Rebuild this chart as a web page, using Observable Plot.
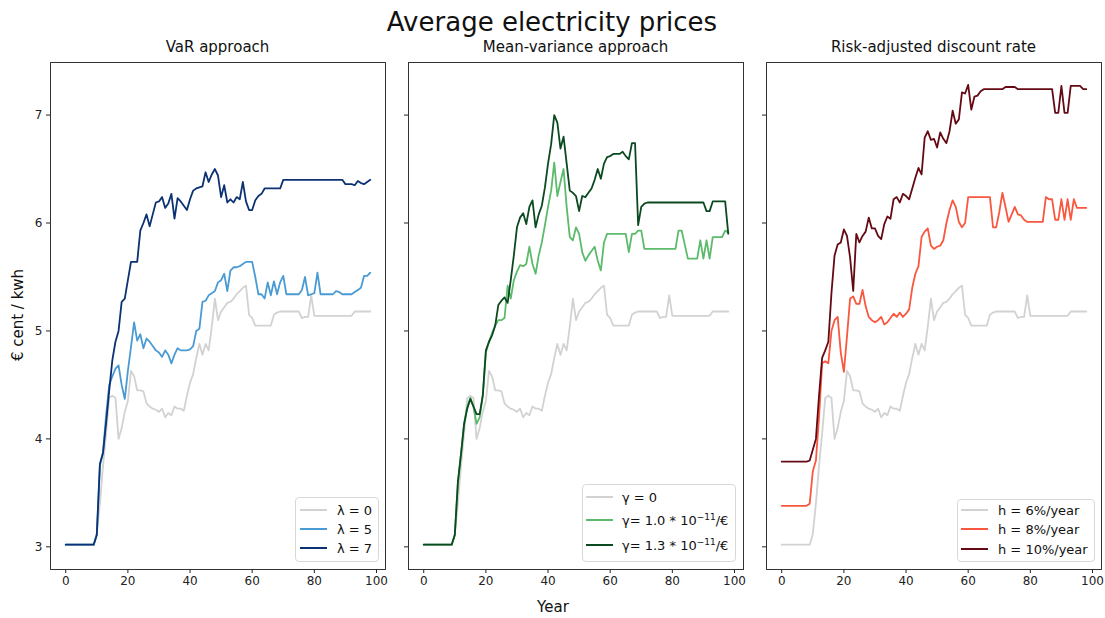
<!DOCTYPE html>
<html>
<head>
<meta charset="utf-8">
<script src="https://cdn.jsdelivr.net/npm/d3@7"></script>
<script src="https://cdn.jsdelivr.net/npm/@observablehq/plot@0.6"></script>
<style>
  html, body { margin: 0; padding: 0; background: #fff; }
  #root { position: relative; width: 1105px; height: 618px; font-family: "DejaVu Sans", sans-serif; color: #111; overflow: hidden; }
  .txt { position: absolute; white-space: nowrap; transform: translate(-50%, -50%); }
  .leg { position: absolute; border: 1px solid #d8d8d8; border-radius: 4px; background: rgba(255,255,255,0.85); box-sizing: border-box; }
  .legline { position: absolute; height: 0; }
  .legtxt { position: absolute; font-size: 13px; white-space: nowrap; transform: translateY(-50%); }
  sup { font-size: 9px; }
</style>
</head>
<body>
<div id="root"></div>
<script>
// ---------- data ----------
const years = d3.range(0, 99);
const xTicks = [0, 20, 40, 60, 80, 100];
const yTicks = [3, 4, 5, 6, 7];

const base = [
  3.02,3.02,3.02,3.02,3.02,3.02,3.02,3.02,3.02,3.02,
  3.12,3.40,3.75,4.05,4.38,4.40,4.38,4.00,4.10,4.25,
  4.35,4.63,4.58,4.45,4.45,4.44,4.33,4.30,4.28,4.27,
  4.25,4.28,4.20,4.24,4.22,4.30,4.28,4.28,4.26,4.40,
  4.52,4.60,4.75,4.88,4.78,4.88,4.82,5.04,5.30,5.10,
  5.18,5.22,5.26,5.27,5.30,5.34,5.37,5.40,5.42,5.15,
  5.12,5.05,5.05,5.05,5.05,5.05,5.05,5.15,5.17,5.18,
  5.18,5.18,5.18,5.18,5.18,5.18,5.12,5.13,5.13,5.33,
  5.14,5.14,5.14,5.14,5.14,5.14,5.14,5.14,5.14,5.14,
  5.14,5.14,5.14,5.18,5.18,5.18,5.18,5.18,5.18
];
const var5 = [
  3.02,3.02,3.02,3.02,3.02,3.02,3.02,3.02,3.02,3.02,
  3.12,3.75,3.88,4.22,4.50,4.58,4.65,4.68,4.50,4.37,
  4.63,4.85,5.08,4.91,4.97,4.84,4.93,4.90,4.86,4.82,
  4.80,4.76,4.82,4.78,4.70,4.78,4.84,4.82,4.82,4.82,
  4.83,4.86,5.00,5.02,5.27,5.28,5.33,5.35,5.37,5.45,
  5.47,5.53,5.37,5.56,5.59,5.59,5.60,5.62,5.64,5.64,
  5.64,5.50,5.34,5.34,5.30,5.45,5.33,5.46,5.34,5.45,
  5.51,5.34,5.34,5.34,5.34,5.34,5.38,5.50,5.33,5.34,
  5.35,5.54,5.34,5.34,5.34,5.34,5.34,5.37,5.36,5.34,
  5.34,5.34,5.34,5.36,5.38,5.40,5.51,5.51,5.54
];
const var7 = [
  3.02,3.02,3.02,3.02,3.02,3.02,3.02,3.02,3.02,3.02,
  3.11,3.77,3.87,4.15,4.45,4.73,4.90,5.00,5.27,5.30,
  5.47,5.64,5.64,5.64,5.93,6.00,6.08,5.97,6.08,6.19,
  6.20,6.24,6.14,6.18,6.27,6.04,6.23,6.20,6.16,6.12,
  6.22,6.30,6.32,6.33,6.34,6.47,6.38,6.45,6.50,6.44,
  6.24,6.35,6.19,6.22,6.19,6.24,6.22,6.38,6.20,6.12,
  6.12,6.21,6.25,6.27,6.32,6.32,6.32,6.32,6.32,6.32,
  6.40,6.40,6.40,6.40,6.40,6.40,6.40,6.40,6.40,6.40,
  6.40,6.40,6.40,6.40,6.40,6.40,6.40,6.40,6.40,6.40,
  6.36,6.36,6.36,6.35,6.39,6.37,6.36,6.38,6.40
];
const gam10 = [
  3.02,3.02,3.02,3.02,3.02,3.02,3.02,3.02,3.02,3.02,
  3.11,3.60,3.86,4.14,4.30,4.38,4.30,4.14,4.20,4.40,
  4.80,4.90,4.98,5.05,5.10,5.10,5.12,5.42,5.30,5.47,
  5.55,5.61,5.60,5.62,5.78,5.62,5.53,5.70,5.82,5.98,
  6.15,6.30,6.56,6.25,6.38,6.50,6.15,5.87,5.84,5.96,
  5.90,5.73,5.65,5.70,5.74,5.78,5.65,5.56,5.82,5.90,
  5.90,5.90,5.90,5.90,5.90,5.90,5.73,5.90,5.90,5.93,
  5.93,5.76,5.76,5.76,5.76,5.76,5.76,5.76,5.76,5.76,
  5.76,5.76,5.93,5.93,5.80,5.67,5.67,5.67,5.67,5.84,
  5.67,5.84,5.67,5.87,5.87,5.87,5.87,5.93,5.91
];
const gam13 = [
  3.02,3.02,3.02,3.02,3.02,3.02,3.02,3.02,3.02,3.02,
  3.11,3.60,3.86,4.14,4.28,4.37,4.30,4.23,4.23,4.40,
  4.82,4.90,4.96,5.05,5.24,5.28,5.31,5.26,5.47,5.70,
  5.96,6.05,6.09,5.99,6.15,6.21,5.96,6.08,6.16,6.33,
  6.55,6.73,7.00,6.93,6.69,6.80,6.55,6.30,6.28,6.25,
  6.11,6.25,6.24,6.28,6.32,6.40,6.50,6.41,6.55,6.61,
  6.62,6.64,6.64,6.64,6.66,6.62,6.59,6.74,6.74,5.98,
  6.15,6.18,6.19,6.19,6.19,6.19,6.19,6.19,6.19,6.19,
  6.19,6.19,6.19,6.19,6.19,6.19,6.19,6.19,6.19,6.19,
  6.19,6.11,6.11,6.20,6.20,6.20,6.20,6.20,5.90
];
const h8 = [
  3.38,3.38,3.38,3.38,3.38,3.38,3.38,3.38,3.38,3.40,
  3.70,3.80,4.20,4.70,4.72,4.70,5.00,5.10,5.13,4.80,
  4.62,4.95,5.30,5.32,5.25,5.25,5.38,5.23,5.13,5.10,
  5.08,5.10,5.13,5.06,5.08,5.12,5.16,5.13,5.17,5.13,
  5.16,5.20,5.40,5.53,5.60,5.87,5.92,5.95,5.79,5.76,
  5.78,5.79,5.84,6.00,6.12,6.21,6.15,6.01,5.96,6.00,
  6.24,6.24,6.24,6.24,6.24,6.24,6.24,6.24,5.96,5.96,
  6.10,6.28,6.15,6.01,6.08,6.15,6.08,6.07,6.03,6.01,
  6.01,6.01,6.01,6.01,6.01,6.24,6.22,6.22,6.03,6.03,
  6.22,6.03,6.22,6.03,6.22,6.14,6.14,6.14,6.14
];
const h10 = [
  3.79,3.79,3.79,3.79,3.79,3.79,3.79,3.79,3.79,3.80,
  3.90,4.00,4.40,4.75,4.82,4.90,5.35,5.70,5.80,5.82,
  5.94,5.88,5.68,5.37,5.90,5.82,5.88,5.92,6.05,5.95,
  5.95,5.88,5.85,5.99,6.06,6.04,6.22,6.24,6.19,6.27,
  6.25,6.22,6.32,6.42,6.51,6.45,6.79,6.85,6.77,6.78,
  6.70,6.84,6.78,6.74,6.85,7.04,6.92,6.96,7.21,7.20,
  7.28,7.05,7.17,7.18,7.22,7.24,7.24,7.24,7.24,7.24,
  7.24,7.24,7.26,7.26,7.26,7.26,7.24,7.24,7.24,7.24,
  7.24,7.24,7.24,7.24,7.24,7.24,7.24,7.24,7.02,7.02,
  7.27,7.02,7.02,7.27,7.27,7.27,7.27,7.24,7.24
];

const panelTitles = ["VaR approach", "Mean-variance approach", "Risk-adjusted discount rate"];
const colors = {
  grey: "#d2d2d2", l5: "#4a9bd4", l7: "#0c3273",
  g10: "#5cba6b", g13: "#0b4a20", h8: "#f9573f", h10: "#650a14"
};

// ---------- layout ----------
const root = document.getElementById("root");
const FW = 335, FH = 507, FT = 62;
const frameLefts = [50, 408, 766];
const ML = 40, MR = 10, MT = 10, MB = 30;

function makePanel(series, showY, left) {
  const marks = [];
  for (const s of series) {
    marks.push(Plot.lineY(s.values, {x: (d, i) => years[i], y: d => d, stroke: s.color, strokeWidth: 1.8}));
  }
  marks.push(Plot.frame({stroke: "#333", strokeWidth: 1}));
  const p = Plot.plot({
    width: FW + ML + MR, height: FH + MT + MB,
    marginLeft: ML, marginRight: MR, marginTop: MT, marginBottom: MB,
    style: {fontFamily: "DejaVu Sans", fontSize: "12px", background: "transparent", color: "#222", overflow: "visible"},
    x: {domain: [-4.9, 102.9], ticks: xTicks, tickSize: 4, tickPadding: 3, label: null, tickFormat: d => String(d)},
    y: {domain: [2.79, 7.487], ticks: yTicks, tickSize: 4, tickPadding: 4, label: null, tickFormat: showY ? (d => String(d)) : (() => "")},
    marks
  });
  p.style.position = "absolute";
  p.style.left = (left - ML) + "px";
  p.style.top = (FT - MT) + "px";
  root.appendChild(p);
}

makePanel([{values: base, color: colors.grey}, {values: var5, color: colors.l5}, {values: var7, color: colors.l7}], true, frameLefts[0]);
makePanel([{values: base, color: colors.grey}, {values: gam10, color: colors.g10}, {values: gam13, color: colors.g13}], false, frameLefts[1]);
makePanel([{values: base, color: colors.grey}, {values: h8, color: colors.h8}, {values: h10, color: colors.h10}], false, frameLefts[2]);

function addText(html, x, y, size, extra) {
  const d = document.createElement("div");
  d.className = "txt";
  d.innerHTML = html;
  d.style.left = x + "px"; d.style.top = y + "px"; d.style.fontSize = size + "px";
  if (extra) Object.assign(d.style, extra);
  root.appendChild(d);
}
addText("Average electricity prices", 552, 22, 26);
panelTitles.forEach((t, i) => addText(t, frameLefts[i] + FW / 2, 47, 15));
addText("Year", 553, 607, 15);
addText("€ cent / kwh", 18, 315, 15, {transform: "translate(-50%, -50%) rotate(-90deg)"});

function addLegend(box, entries, lineX0, lineX1, textX) {
  const b = document.createElement("div");
  b.className = "leg";
  Object.assign(b.style, {left: box[0] + "px", top: box[1] + "px", width: box[2] + "px", height: box[3] + "px"});
  root.appendChild(b);
  for (const e of entries) {
    const l = document.createElement("div");
    l.className = "legline";
    Object.assign(l.style, {left: lineX0 + "px", top: (e.y - 1) + "px", width: (lineX1 - lineX0) + "px", borderTop: "2px solid " + e.color});
    root.appendChild(l);
    const t = document.createElement("div");
    t.className = "legtxt";
    t.innerHTML = e.label;
    Object.assign(t.style, {left: textX + "px", top: e.y + "px"});
    root.appendChild(t);
  }
}
addLegend([295, 497, 84, 65], [
  {label: "λ = 0", color: colors.grey, y: 510},
  {label: "λ = 5", color: colors.l5, y: 529},
  {label: "λ = 7", color: colors.l7, y: 548}
], 300, 327, 337);
addLegend([582, 484, 154, 78], [
  {label: "γ = 0", color: colors.grey, y: 497},
  {label: "γ= 1.0 * 10<sup>−11</sup>/€", color: colors.g10, y: 520},
  {label: "γ= 1.3 * 10<sup>−11</sup>/€", color: colors.g13, y: 545}
], 586, 613, 622);
addLegend([957, 499, 138, 63], [
  {label: "h = 6%/year", color: colors.grey, y: 510},
  {label: "h = 8%/year", color: colors.h8, y: 529},
  {label: "h = 10%/year", color: colors.h10, y: 549}
], 961, 988, 998);
</script>
</body>
</html>
